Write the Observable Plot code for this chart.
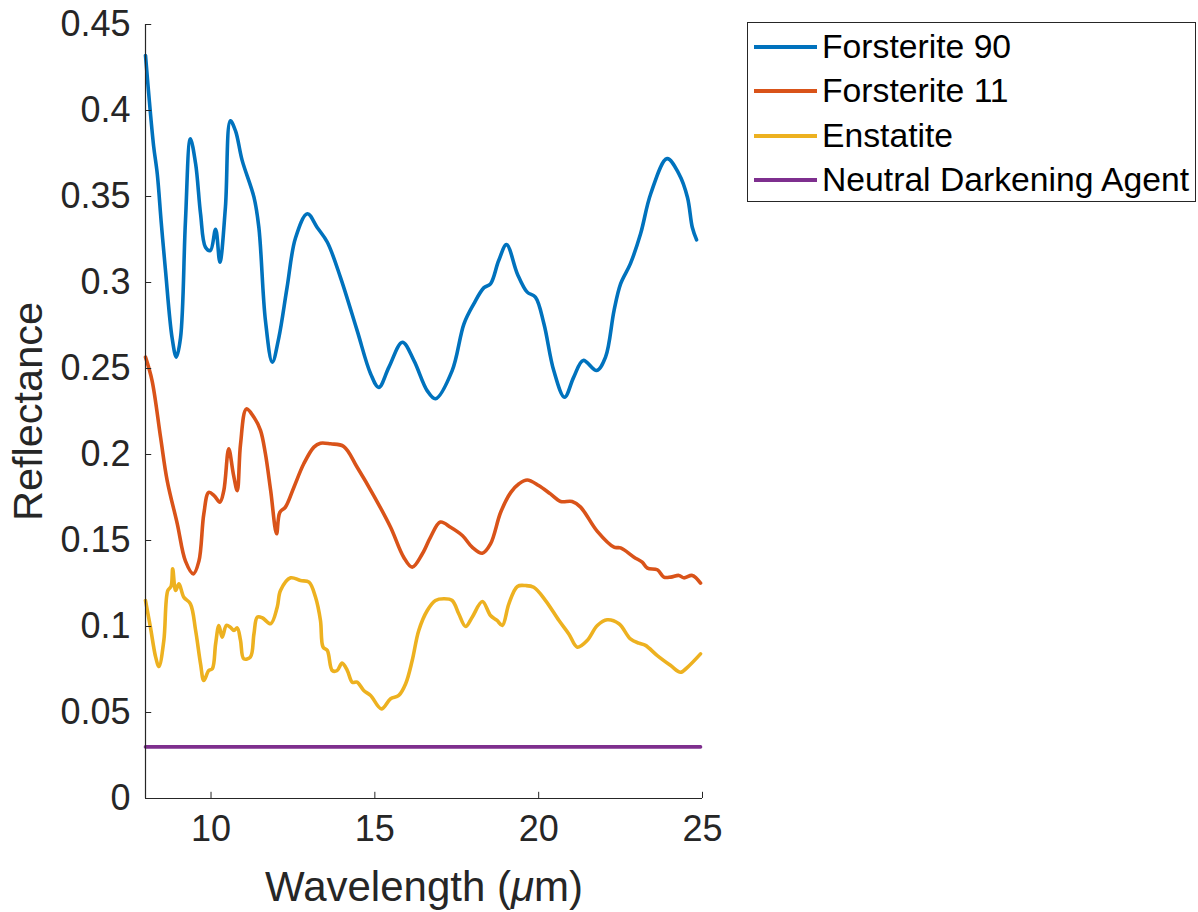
<!DOCTYPE html>
<html>
<head>
<meta charset="utf-8">
<script src="https://cdn.jsdelivr.net/npm/d3@7"></script>
<script src="https://cdn.jsdelivr.net/npm/@observablehq/plot@0.6"></script>
<style>
  body { margin: 0; background: #fff; }
  #wrap { position: relative; width: 1198px; height: 912px; font-family: "Liberation Sans", Arial, Helvetica, sans-serif; }
  #legend { position: absolute; left: 747px; top: 22px; width: 449px; height: 180px; border: 1px solid #262626; background: #fff; box-sizing: border-box; }
  .row { position: absolute; left: 0; height: 44px; display: flex; align-items: center; }
  .swatch { position: absolute; left: 6px; width: 63px; height: 4px; }
  .lbl { position: absolute; left: 74px; font-size: 33.7px; line-height: 1; color: #000; white-space: nowrap; }
</style>
</head>
<body>
<div id="wrap"><div id="legend"></div></div>
<script>
// ---- data ----
const xTicks = [10, 15, 20, 25];
const yTicks = [0, 0.05, 0.1, 0.15, 0.2, 0.25, 0.3, 0.35, 0.4, 0.45];
const seriesNames = ["Forsterite 90", "Forsterite 11", "Enstatite", "Neutral Darkening Agent"];
const seriesColors = ["#0072BD", "#D95319", "#EDB120", "#7E2F8E"];

const fo90 = [[8.00,0.432],[8.12,0.405],[8.25,0.379],[8.36,0.363],[8.48,0.335],[8.61,0.307],[8.81,0.268],[8.94,0.2566],[9.07,0.268],[9.22,0.336],[9.37,0.3835],[9.53,0.369],[9.68,0.340],[9.83,0.3205],[9.98,0.3186],[10.14,0.331],[10.27,0.3118],[10.44,0.344],[10.59,0.394],[10.75,0.388],[10.95,0.371],[11.31,0.3496],[11.46,0.332],[11.66,0.278],[11.87,0.2537],[12.07,0.268],[12.32,0.297],[12.58,0.326],[12.94,0.340],[13.24,0.332],[13.55,0.3234],[13.95,0.303],[14.46,0.272],[14.87,0.247],[15.12,0.239],[15.43,0.2508],[15.84,0.2653],[16.19,0.2547],[16.6,0.237],[16.85,0.2324],[17.36,0.2488],[17.72,0.276],[18.02,0.2876],[18.33,0.297],[18.53,0.2992],[18.78,0.3128],[19.02,0.322],[19.35,0.305],[19.65,0.2944],[19.9,0.2915],[20.16,0.276],[20.46,0.2488],[20.79,0.2333],[21.07,0.245],[21.36,0.2547],[21.77,0.2488],[22.04,0.2566],[22.3,0.2837],[22.5,0.2992],[22.8,0.311],[23.11,0.3283],[23.42,0.3516],[23.92,0.372],[24.28,0.3632],[24.54,0.3496],[24.69,0.332],[24.82,0.3248]];

const fo11 = [[8.00,0.2566],[8.2,0.243],[8.46,0.210],[8.66,0.185],[8.97,0.1597],[9.22,0.138],[9.46,0.1306],[9.63,0.138],[9.78,0.1655],[9.93,0.178],[10.1,0.176],[10.27,0.1723],[10.39,0.179],[10.54,0.2033],[10.68,0.1888],[10.8,0.179],[10.9,0.206],[11.08,0.2265],[11.31,0.2217],[11.51,0.214],[11.66,0.2004],[11.82,0.179],[12.0,0.1539],[12.1,0.1664],[12.27,0.1694],[12.53,0.181],[12.83,0.1946],[13.14,0.2043],[13.34,0.2066],[13.65,0.2062],[14.05,0.2047],[14.46,0.1926],[14.97,0.176],[15.48,0.1577],[15.88,0.1403],[16.14,0.1345],[16.45,0.1423],[16.7,0.152],[17.0,0.1607],[17.31,0.1577],[17.67,0.1529],[17.97,0.1461],[18.28,0.1426],[18.53,0.148],[18.84,0.1664],[19.15,0.178],[19.4,0.183],[19.65,0.1852],[20.0,0.182],[20.36,0.1771],[20.67,0.1727],[21.02,0.1727],[21.28,0.1694],[21.79,0.1553],[22.3,0.1461],[22.5,0.1457],[22.91,0.1403],[23.16,0.1374],[23.32,0.1339],[23.62,0.133],[23.82,0.1287],[24.03,0.1287],[24.28,0.1297],[24.43,0.1283],[24.69,0.1297],[24.94,0.1252]];

const enstatite = [[8.0,0.1151],[8.15,0.0996],[8.31,0.0822],[8.41,0.0767],[8.56,0.0919],[8.68,0.1209],[8.78,0.1233],[8.83,0.1335],[8.92,0.1209],[9.02,0.1248],[9.17,0.117],[9.37,0.1132],[9.53,0.0977],[9.68,0.0783],[9.78,0.0686],[9.93,0.0744],[10.04,0.0754],[10.14,0.0899],[10.24,0.1006],[10.34,0.0938],[10.47,0.1006],[10.59,0.0996],[10.7,0.0977],[10.8,0.0992],[10.9,0.0919],[11.0,0.0812],[11.2,0.0822],[11.31,0.0957],[11.41,0.1054],[11.56,0.1051],[11.82,0.1016],[12.02,0.1112],[12.12,0.1209],[12.43,0.1283],[12.73,0.1267],[12.99,0.1258],[13.19,0.117],[13.34,0.1035],[13.42,0.088],[13.55,0.086],[13.7,0.0744],[13.85,0.0744],[14.0,0.0787],[14.16,0.0744],[14.31,0.0676],[14.46,0.0676],[14.66,0.0628],[14.87,0.0599],[15.2,0.0521],[15.48,0.058],[15.73,0.0599],[15.94,0.0667],[16.14,0.0802],[16.34,0.0977],[16.6,0.1093],[16.85,0.1151],[17.11,0.1161],[17.36,0.1151],[17.56,0.1074],[17.77,0.1],[17.97,0.1054],[18.28,0.1145],[18.53,0.1064],[18.73,0.1035],[18.89,0.1006],[19.09,0.1132],[19.35,0.1233],[19.6,0.1238],[19.85,0.1228],[20.21,0.1151],[20.62,0.1035],[20.92,0.0957],[21.18,0.088],[21.48,0.0919],[21.79,0.1006],[22.09,0.1039],[22.45,0.1016],[22.8,0.0928],[23.06,0.0903],[23.26,0.089],[23.62,0.0831],[24.03,0.0773],[24.33,0.0734],[24.54,0.0763],[24.94,0.0841]];

const neutral = [[8.0,0.03],[24.94,0.03]];

const allSeries = [fo90, fo11, enstatite, neutral];

// ---- chart ----
const FONT = '"Liberation Sans", Arial, Helvetica, sans-serif';
const INK = "#262626";
const fmt = d => String(+d.toFixed(2));

const lineMarks = allSeries.map((s, i) =>
  Plot.line(s, {x: d => d[0], y: d => d[1], stroke: seriesColors[i], strokeWidth: 3.6, curve: "catmull-rom"})
);

const chart = Plot.plot({
  width: 1198,
  height: 912,
  marginLeft: 145,
  marginRight: 496,
  marginTop: 24,
  marginBottom: 114,
  style: {fontFamily: FONT, color: INK, background: "white", overflow: "visible"},
  x: {domain: [8, 25]},
  y: {domain: [0, 0.45]},
  marks: [
    Plot.axisX({ticks: xTicks, tickSize: 0, tickPadding: 17, fontSize: 36, label: null, tickFormat: fmt, fill: INK}),
    Plot.axisY({ticks: yTicks, tickSize: 0, tickPadding: 15, fontSize: 36, label: null, tickFormat: fmt, fill: INK}),
    ...lineMarks,
    Plot.ruleY(yTicks, {y: d => d, x1: 8, x2: 8.19, stroke: INK, strokeWidth: 1}),
    Plot.ruleX(xTicks, {x: d => d, y1: 0, y2: 0.0036, stroke: INK, strokeWidth: 1}),
    Plot.ruleX([8], {y1: 0, y2: 0.45, stroke: INK, strokeWidth: 1.2}),
    Plot.ruleY([0], {x1: 8, x2: 25, stroke: INK, strokeWidth: 1.2}),
    Plot.text(["Reflectance"], {frameAnchor: "left", dx: -117, rotate: -90, textAnchor: "middle", lineAnchor: "middle", fontSize: 41.5, fill: INK}),
    Plot.text(["Wavelength (μm)"], {frameAnchor: "bottom", dy: 89, textAnchor: "middle", lineAnchor: "middle", fontSize: 42, fill: INK})
  ]
});

// italic mu like the TeX-rendered label
d3.select(chart).selectAll("text").filter(function() { return this.textContent === "Wavelength (μm)"; })
  .each(function() {
    const t = d3.select(this);
    t.text(null);
    t.append("tspan").text("Wavelength (");
    t.append("tspan").attr("font-style", "italic").text("μ");
    t.append("tspan").text("m)");
  });

const wrap = document.getElementById("wrap");
wrap.insertBefore(chart, wrap.firstChild);

// ---- legend ----
const legend = document.getElementById("legend");
seriesNames.forEach((name, i) => {
  const row = document.createElement("div");
  row.className = "row";
  row.style.top = (2 + i * 44.3) + "px";
  row.style.width = "100%";
  const sw = document.createElement("div");
  sw.className = "swatch";
  sw.style.background = seriesColors[i];
  const lb = document.createElement("span");
  lb.className = "lbl";
  lb.textContent = name;
  row.appendChild(sw);
  row.appendChild(lb);
  legend.appendChild(row);
});
</script>
</body>
</html>
